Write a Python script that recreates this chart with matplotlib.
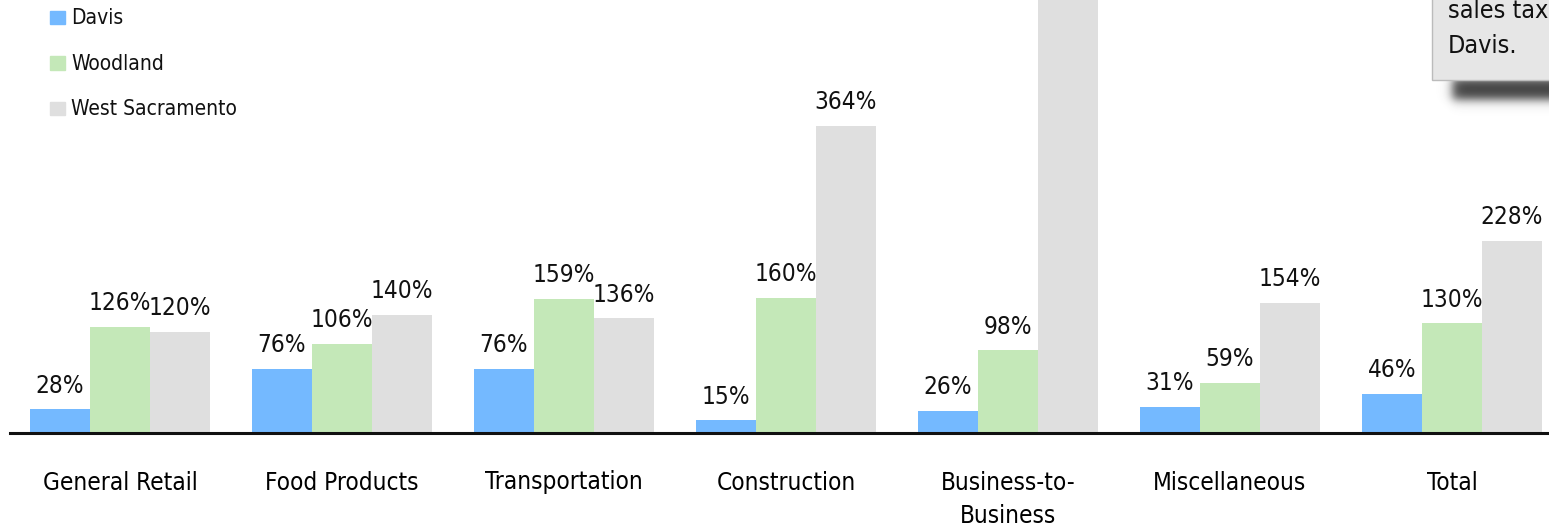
import numpy as np
import matplotlib.pyplot as plt
from matplotlib.patches import Rectangle

plt.rcParams['font.family'] = ['DejaVu Sans']
plt.rcParams['font.stretch'] = 'condensed'

categories = ["General Retail", "Food Products", "Transportation", "Construction",
              "Business-to-\nBusiness", "Miscellaneous", "Total"]
davis = [28, 76, 76, 15, 26, 31, 46]
woodland = [126, 106, 159, 160, 98, 59, 130]
west_sac = [120, 140, 136, 364, 620, 154, 228]

series = [("Davis", davis, "#74b9ff"),
          ("Woodland", woodland, "#c4e8b8"),
          ("West Sacramento", west_sac, "#dfdfdf")]

W, H = 1549, 531
ymax = 513.6
fig = plt.figure(figsize=(W / 100, H / 100), dpi=100)
ax = fig.add_axes([10 / W, 98 / H, 1539 / W, 433 / H])

x = np.arange(len(categories))
width = 0.27
for i, (name, vals, color) in enumerate(series):
    pos = x + (i - 1) * width
    ax.bar(pos, vals, width, color=color, label=name)
    for px, v in zip(pos, vals):
        if v + 40 > ymax:
            continue  # bar runs off the top, its label would be out of view
        ax.text(px, v + 14, f"{v}%", ha="center", va="bottom", fontsize=17.5,
                color="#111111")

ax.set_xlim(-0.495, 6.437)
ax.set_ylim(0, ymax)
for s in ["top", "right", "left"]:
    ax.spines[s].set_visible(False)
ax.spines["bottom"].set_linewidth(2.2)
ax.spines["bottom"].set_color("#111111")
ax.set_yticks([])
ax.set_xticks(x)
ax.set_xticklabels(categories, fontsize=17.5, linespacing=1.5)
ax.tick_params(axis="x", length=0, pad=27)

# legend drawn by hand at the upper left
for i, (name, vals, color) in enumerate(series):
    y = H - 18 - i * 45.5
    fig.patches.append(Rectangle((50 / W, (y - 6) / H), 15 / W, 13 / H,
                                 transform=fig.transFigure, color=color))
    fig.text(71 / W, y / H, name, fontsize=15, va="center", color="#111111")

# soft shadow under the callout box
sx0, sy0, sw, sh = 1400, 50, 149, 80
yy, xx = np.mgrid[0:sh, 0:sw]
def soft(v, a, b, s):
    return 1 / (1 + np.exp(-(v - a) / s)) * (1 - 1 / (1 + np.exp(-(v - b) / s)))
# rows counted from the top of the picture: shadow band y 80..99, x 1452..
band = soft(yy + sy0, 78, 99, 3.0) * soft(xx + sx0, 1452, 1700, 3.0)
rgba = np.zeros((sh, sw, 4))
rgba[..., :3] = 0.2
rgba[..., 3] = band * 0.95
fig.figimage(rgba[::-1], xo=sx0, yo=H - sy0 - sh, origin="lower", zorder=0)

fig.patches.append(Rectangle((1432 / W, (H - 80) / H), 200 / W, 100 / H,
                             transform=fig.transFigure, facecolor="#e6e6e6",
                             edgecolor="#bbbbbb", lw=1, zorder=2))
fig.text(1448 / W, (H - 11) / H, "sales tax", fontsize=18, va="center", color="#111111")
fig.text(1448 / W, (H - 46) / H, "Davis.", fontsize=18, va="center", color="#111111")

fig.savefig("out.png", dpi=100)
